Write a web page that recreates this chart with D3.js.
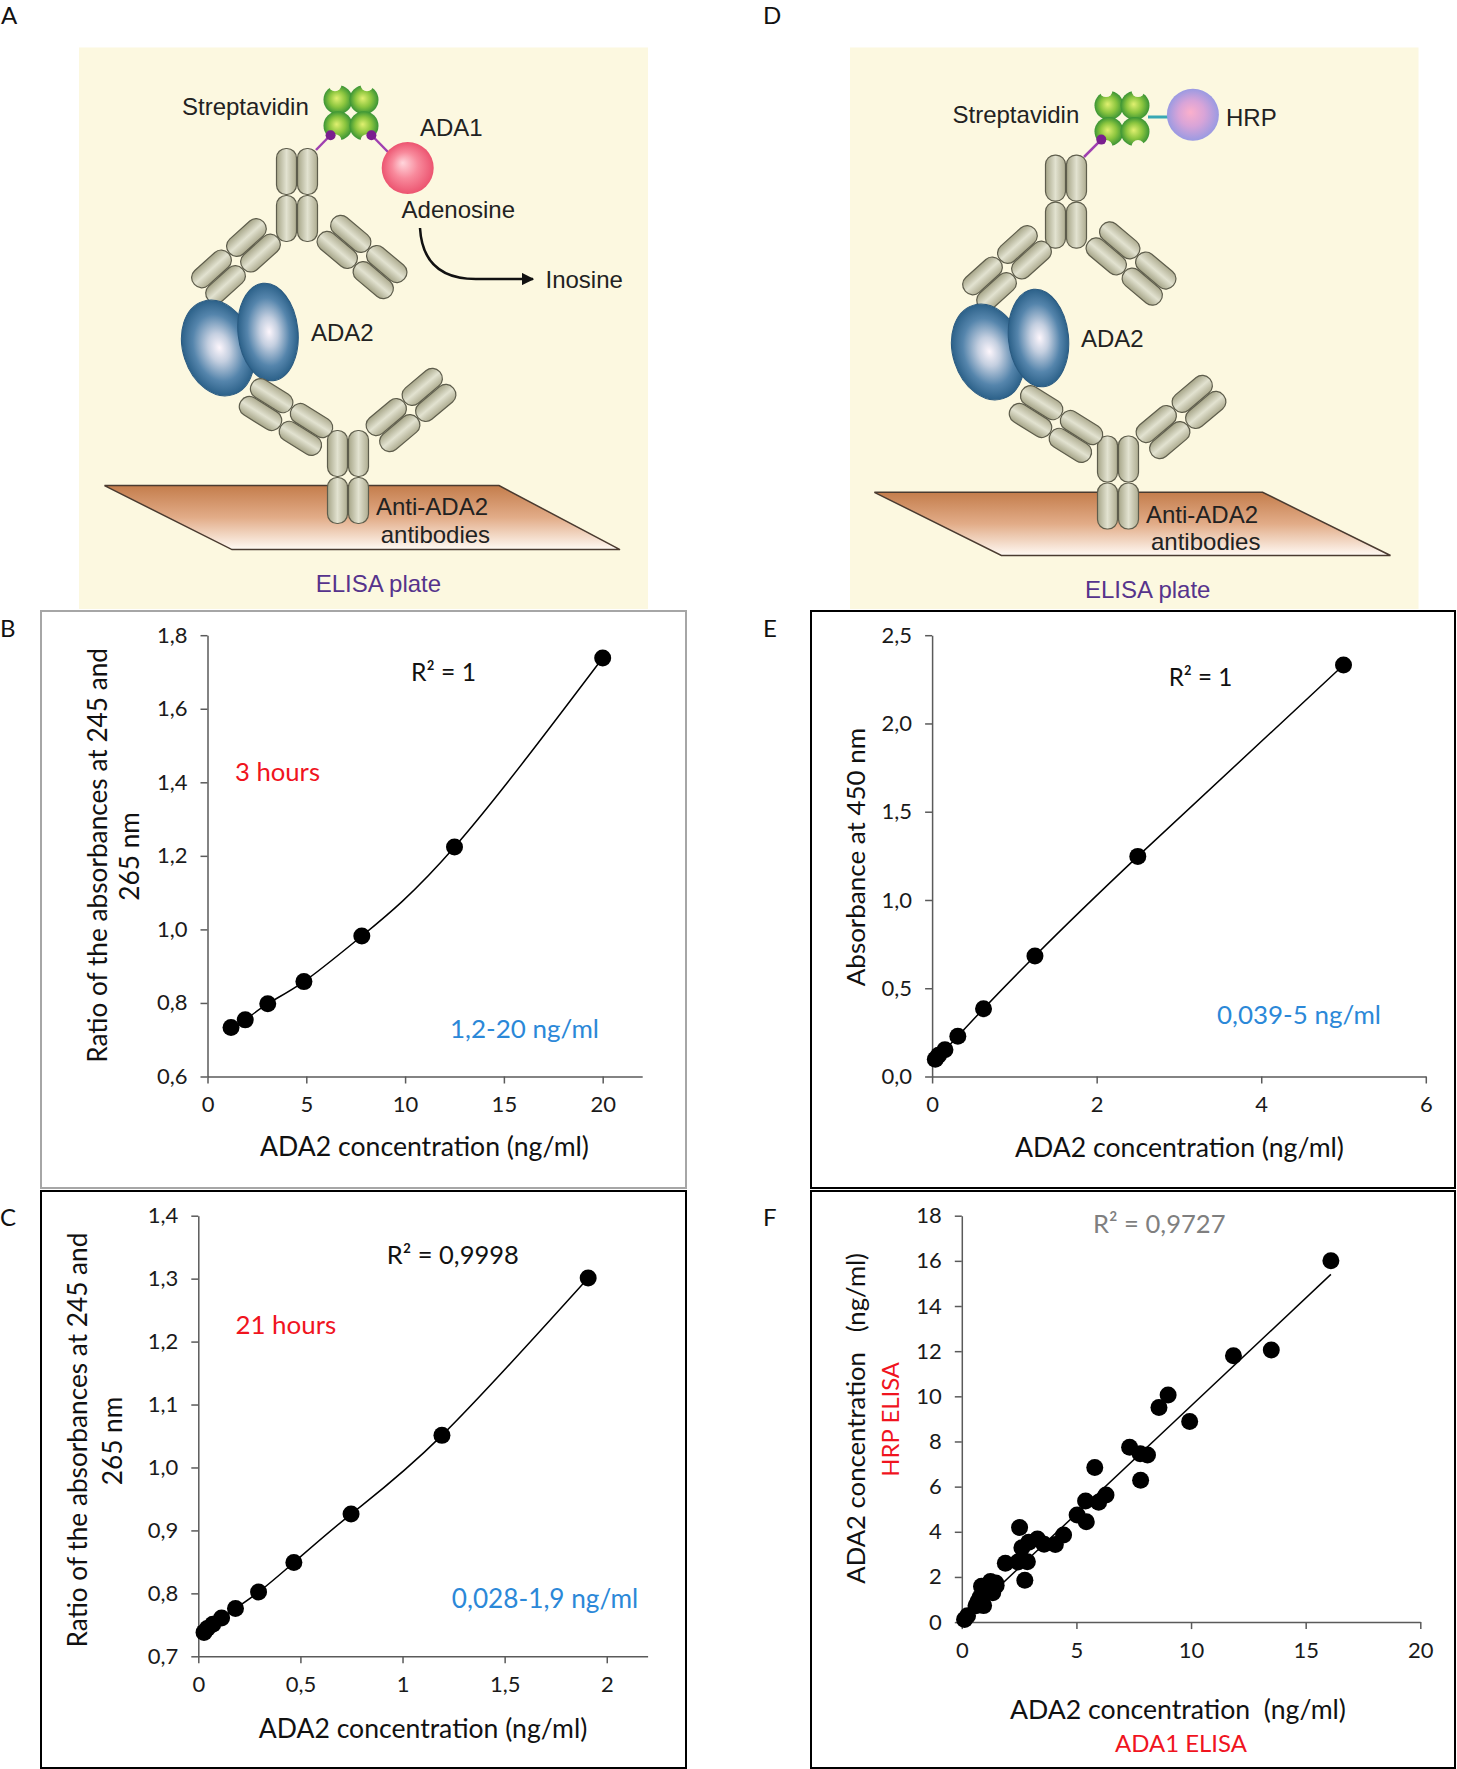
<!DOCTYPE html>
<html>
<head>
<meta charset="utf-8">
<script src="https://cdn.jsdelivr.net/npm/d3@7"></script>
<style>
  body { margin: 0; background: #fff; }
  svg { display: block; }
  text { font-family: Lato, "Open Sans", sans-serif; white-space: pre; }
  .ill text { font-family: "Liberation Sans", Arial, sans-serif; }
</style>
</head>
<body>
<script>
// ---- data ----
// B: ADA1 assay, 3 hours
var concB = [1.19, 1.91, 3.05, 4.88, 7.81, 12.5, 20]
var ratioB = [0.733, 0.754, 0.798, 0.858, 0.982, 1.224, 1.738]
// C: ADA1 assay, 21 hours
var concC = [0.028, 0.044, 0.071, 0.114, 0.182, 0.295, 0.468, 0.748, 1.193, 1.909]
var ratioC = [0.738, 0.744, 0.751, 0.761, 0.776, 0.802, 0.849, 0.926, 1.051, 1.301]
// E: HRP assay
var concE = [0.039, 0.078, 0.156, 0.3125, 0.625, 1.25, 2.5, 5]
var absE = [0.098, 0.12, 0.152, 0.228, 0.384, 0.683, 1.247, 2.331]
// F: samples, ADA1 ELISA vs HRP ELISA
var ada1F = [16.1, 13.5, 11.85, 9.0, 8.6, 9.94, 7.32, 7.78, 8.1, 7.8, 5.8, 5.4, 5.97, 6.29, 5.03, 5.43,
  2.52, 4.44, 4.08, 3.59, 3.3, 2.92, 2.62, 2.86, 2.45, 1.9, 2.75, 1.48, 1.25, 0.86, 1.05, 1.35,
  0.7, 0.95, 0.62, 0.25, 0.12, 1.15, 1.5, 0.8]
var hrpF = [16.0, 12.05, 11.8, 10.06, 9.5, 8.88, 7.74, 7.46, 7.4, 6.28, 6.85, 5.36, 5.31, 5.63, 4.74, 4.44,
  4.19, 3.86, 3.44, 3.45, 3.68, 3.54, 3.29, 2.67, 2.66, 2.61, 1.85, 1.73, 1.8, 1.59, 1.36, 1.3,
  0.9, 0.73, 0.72, 0.28, 0.12, 1.55, 1.62, 1.1]
// linear trend of F (end points of the drawn line)
var fitF = [[0.1, 0.12], [16.1, 15.4]]

// tick values
var ticksBx = [0, 5, 10, 15, 20]
var ticksBy = [0.6, 0.8, 1.0, 1.2, 1.4, 1.6, 1.8]
var ticksCx = [0, 0.5, 1, 1.5, 2]
var ticksCy = [0.7, 0.8, 0.9, 1.0, 1.1, 1.2, 1.3, 1.4]
var ticksEx = [0, 2, 4, 6]
var ticksEy = [0, 0.5, 1.0, 1.5, 2.0, 2.5]
var ticksFx = [0, 5, 10, 15, 20]
var ticksFy = [0, 2, 4, 6, 8, 10, 12, 14, 16, 18]

var width = 1457, height = 1769
var BG = '#fcf8e0'

var svg = d3.select("body")
  .append("svg")
  .attr("width", width)
  .attr("height", height)

var locale = d3.formatLocale({decimal: ",", thousands: ".", grouping: [3], currency: ["", ""]})
var fmt1 = locale.format(".1f")
var fmtTrim = locale.format(".1~f")
var fmtInt = locale.format("d")

// ---- gradients ----
var defs = svg.append("defs")

function radial(id, stops, fx, fy) {
  var gr = defs.append("radialGradient").attr("id", id)
    .attr("fx", fx || 0.5).attr("fy", fy || 0.5)
  stops.forEach(s => gr.append("stop").attr("offset", s[0]).attr("stop-color", s[1]))
}
radial("gGreen", [[0, "#e0f070"], [0.55, "#8cc63f"], [1, "#3a9435"]], 0.45, 0.45)
radial("gBlue", [[0, "#fdf6fc"], [0.3, "#c4cfe0"], [0.7, "#5585ac"], [1, "#2c6189"]], 0.52, 0.5)
radial("gPink", [[0, "#ffd6dc"], [0.5, "#f88a9c"], [1, "#ec5470"]], 0.4, 0.4)
radial("gHrp", [[0, "#fbb0cc"], [0.5, "#d8a4d8"], [1, "#9a9ae2"]], 0.45, 0.45)

var pillGrad = defs.append("linearGradient").attr("id", "gPill")
  .attr("x1", 0).attr("x2", 1).attr("y1", 0).attr("y2", 0)
pillGrad.append("stop").attr("offset", 0).attr("stop-color", "#a6a588")
pillGrad.append("stop").attr("offset", 0.5).attr("stop-color", "#e2e2d0")
pillGrad.append("stop").attr("offset", 1).attr("stop-color", "#aeac90")

var plateGrad = defs.append("linearGradient").attr("id", "gPlate")
  .attr("x1", 0).attr("x2", 0).attr("y1", 0).attr("y2", 1)
plateGrad.append("stop").attr("offset", 0).attr("stop-color", "#c47d4c")
plateGrad.append("stop").attr("offset", 0.5).attr("stop-color", "#e2ac88")
plateGrad.append("stop").attr("offset", 1).attr("stop-color", "#fffaf4")

defs.append("marker").attr("id", "arrow")
  .attr("viewBox", "0 0 10 10").attr("refX", 9).attr("refY", 5)
  .attr("markerWidth", 5).attr("markerHeight", 5).attr("orient", "auto")
  .append("path").attr("d", "M0,0 L10,5 L0,10 z").attr("fill", "#111")

// ---- illustration helpers ----
// 2x2 block of rounded pills (one antibody domain pair)
function block(g, cx, cy, angle) {
  var b = g.append("g").attr("transform", `translate(${cx},${cy}) rotate(${angle})`)
  ;[[-1, -1], [1, -1], [-1, 1], [1, 1]].forEach(function(p) {
    b.append("rect")
      .attr("x", p[0] < 0 ? -20.5 : 0.5)
      .attr("y", p[1] < 0 ? -46.5 : 0.5)
      .attr("width", 20).attr("height", 46)
      .attr("rx", 9.5)
      .attr("fill", "url(#gPill)")
      .attr("stroke", "#5e5d4c")
      .attr("stroke-width", 1.2)
  })
}

function strep(g, cx, cy) {
  var s = g.append("g").attr("transform", `translate(${cx},${cy})`)
  ;[[-1, -1], [1, -1], [-1, 1], [1, 1]].forEach(function(p) {
    s.append("circle").attr("cx", p[0] * 13).attr("cy", p[1] * 13).attr("r", 14.5)
      .attr("fill", "url(#gGreen)")
  })
  ;[[-1, -1], [1, -1], [-1, 1], [1, 1]].forEach(function(p) {
    s.append("circle").attr("cx", p[0] * 16).attr("cy", p[1] * 28).attr("r", 6.5)
      .attr("fill", BG)
  })
}

function ada2(g, l, r) {
  g.append("ellipse").attr("rx", 35).attr("ry", 49)
    .attr("transform", `translate(${l[0]},${l[1]}) rotate(-18)`)
    .attr("fill", "url(#gBlue)").attr("stroke", "#2a5a80").attr("stroke-width", 1)
  g.append("ellipse").attr("rx", 30).attr("ry", 49)
    .attr("transform", `translate(${r[0]},${r[1]}) rotate(-6)`)
    .attr("fill", "url(#gBlue)").attr("stroke", "#2a5a80").attr("stroke-width", 1)
}

function plate(g, pts) {
  g.append("path")
    .attr("d", "M" + pts.map(p => p.join(",")).join("L") + "Z")
    .attr("fill", "url(#gPlate)")
    .attr("stroke", "#4a3b30")
    .attr("stroke-width", 1.5)
}

function itext(g, str, x, y, color) {
  return g.append("text").attr("x", x).attr("y", y)
    .attr("font-size", 24).attr("fill", color || "#222").text(str)
}

// ---- panel A ----
var ill = svg.append("g").attr("class", "ill")
ill.append("rect").attr("x", 79).attr("y", 47.5).attr("width", 569).attr("height", 561.5).attr("fill", BG)
plate(ill, [[104.5, 485.6], [499, 485.6], [620, 549.6], [232, 549.6]])
block(ill, 297, 195, 0)
block(ill, 236, 261, 48)
block(ill, 362, 257, -50)
ada2(ill, [218, 348], [268, 332])
block(ill, 348, 477, 0)
block(ill, 286, 417, -58)
block(ill, 411, 410, 50)
strep(ill, 351, 112.7)
ill.append("line").attr("x1", 330.6).attr("y1", 135).attr("x2", 316).attr("y2", 150)
  .attr("stroke", "#a040b0").attr("stroke-width", 2.5)
ill.append("line").attr("x1", 371.4).attr("y1", 135).attr("x2", 388).attr("y2", 152)
  .attr("stroke", "#a040b0").attr("stroke-width", 2.5)
ill.append("circle").attr("cx", 330.6).attr("cy", 135.2).attr("r", 5).attr("fill", "#7a1f8f")
ill.append("circle").attr("cx", 371.4).attr("cy", 135.2).attr("r", 5).attr("fill", "#7a1f8f")
ill.append("circle").attr("cx", 407.7).attr("cy", 168).attr("r", 26).attr("fill", "url(#gPink)")
ill.append("path").attr("d", "M420,228 Q423,280 478,279 L533,279")
  .attr("fill", "none").attr("stroke", "#111").attr("stroke-width", 2.5)
  .attr("marker-end", "url(#arrow)")
itext(ill, "Streptavidin", 182, 115.4)
itext(ill, "ADA1", 420, 136)
itext(ill, "Adenosine", 401.6, 218)
itext(ill, "Inosine", 545.5, 287.5)
itext(ill, "ADA2", 311, 340.6)
itext(ill, "Anti-ADA2", 376, 514.6)
itext(ill, "antibodies", 380.7, 543)
itext(ill, "ELISA plate", 315.7, 591.8, "#56338c")

// ---- panel D ----
ill.append("rect").attr("x", 850).attr("y", 47.5).attr("width", 568.5).attr("height", 561.5).attr("fill", BG)
plate(ill, [[874.4, 492.3], [1262.6, 492.3], [1390.5, 555.5], [1001.4, 555.5]])
block(ill, 1066, 201.6, 0)
block(ill, 1007, 268, 48)
block(ill, 1131, 263.5, -50)
ada2(ill, [988, 352], [1038.5, 338])
block(ill, 1118, 482.5, 0)
block(ill, 1056, 424, -58)
block(ill, 1181, 417, 50)
strep(ill, 1122, 118.6)
ill.append("line").attr("x1", 1148).attr("y1", 117).attr("x2", 1170).attr("y2", 117)
  .attr("stroke", "#38a8b4").attr("stroke-width", 3)
ill.append("circle").attr("cx", 1192.9).attr("cy", 114.7).attr("r", 26).attr("fill", "url(#gHrp)")
ill.append("line").attr("x1", 1101.3).attr("y1", 139.6).attr("x2", 1084).attr("y2", 157)
  .attr("stroke", "#a040b0").attr("stroke-width", 2.5)
ill.append("circle").attr("cx", 1101.3).attr("cy", 139.6).attr("r", 5).attr("fill", "#7a1f8f")
itext(ill, "Streptavidin", 952.5, 123.3)
itext(ill, "HRP", 1226, 126.4)
itext(ill, "ADA2", 1081, 346.6)
itext(ill, "Anti-ADA2", 1146, 522.6)
itext(ill, "antibodies", 1151, 549.6)
itext(ill, "ELISA plate", 1085, 597.6, "#56338c")

// ---- chart helpers ----
// set font size so the text spans w pixels
function fit(t, w) {
  t.attr("font-size", 20)
  var len = t.node().getComputedTextLength()
  t.attr("font-size", 20 * w / len)
  return 20 * w / len
}

function note(g, str, x, y, w, color) {
  var t = g.append("text").attr("x", x).attr("y", y).attr("dy", "0.35em")
    .attr("fill", color || "#111").text(str)
  fit(t, w)
  return t
}

function ctext(g, str, x, y, w, color, rot) {
  var t = g.append("text")
    .attr("transform", `translate(${x},${y})` + (rot ? " rotate(-90)" : ""))
    .attr("text-anchor", "middle").attr("dy", "0.35em")
    .attr("fill", color || "#111").text(str)
  if (w) fit(t, w)
  return t
}

function frame(x0, y0, x1, y1, color) {
  svg.append("rect").attr("x", x0).attr("y", y0)
    .attr("width", x1 - x0).attr("height", y1 - y0)
    .attr("fill", "none").attr("stroke", color).attr("stroke-width", 2)
}

function chart(o) {
  var g = svg.append("g")
  var x = d3.scaleLinear().domain(o.xDomain).range(o.xRange)
  var y = d3.scaleLinear().domain(o.yDomain).range(o.yRange)

  g.append("g")
    .attr("transform", `translate(0,${o.yRange[0]})`)
    .call(d3.axisBottom(x).tickValues(o.xTicks).tickFormat(o.xFmt)
      .tickSize(7).tickSizeOuter(0).tickPadding(13))

  g.append("g")
    .attr("transform", `translate(${o.xRange[0]},0)`)
    .call(d3.axisLeft(y).tickValues(o.yTicks).tickFormat(o.yFmt)
      .tickSize(7).tickSizeOuter(0).tickPadding(13))

  g.selectAll(".domain, .tick line").attr("stroke", "#5a5a5a").attr("stroke-width", 1.5)
  g.selectAll(".tick text")
    .attr("font-family", "Lato, 'Open Sans', sans-serif")
    .attr("font-size", 22)
    .attr("fill", "#1a1a1a")
  return {g: g, x: x, y: y}
}

function dots(c, xs, ys) {
  c.g.append("g").selectAll("circle")
    .data(xs)
    .enter()
    .append("circle")
    .attr("cx", d => c.x(d))
    .attr("cy", (d, i) => c.y(ys[i]))
    .attr("r", 8.5)
    .attr("fill", "#000")
}

function curve(c, xs, ys) {
  var line = d3.line()
    .x(d => c.x(d[0]))
    .y(d => c.y(d[1]))
    .curve(d3.curveNatural)
  c.g.append("path")
    .attr("d", line(xs.map((d, i) => [d, ys[i]])))
    .attr("fill", "none")
    .attr("stroke", "#000")
    .attr("stroke-width", 1.5)
}

// ---- frames ----
frame(41, 611, 686, 1188, "#a6a6a6")
frame(41, 1191, 686, 1768, "#000")
frame(811, 611, 1455, 1188, "#000")
frame(811, 1191, 1455, 1768, "#000")

// panel letters
;[["A", 1, 15.8], ["B", 0, 628.7], ["C", 0, 1217.6], ["D", 763, 15.8], ["E", 763, 628.7], ["F", 763, 1217.6]]
  .forEach(function(l) {
    svg.append("text").attr("x", l[1]).attr("y", l[2]).attr("dy", "0.35em")
      .attr("font-size", 24).attr("fill", "#111").text(l[0])
  })

// ---- B ----
var cB = chart({
  xDomain: [0, 22], xRange: [207.5, 642.2],
  yDomain: [0.6, 1.8], yRange: [1076.5, 635.2],
  xTicks: ticksBx, yTicks: ticksBy, xFmt: fmtInt, yFmt: fmt1
})
curve(cB, concB, ratioB)
dots(cB, concB, ratioB)
note(cB.g, "R² = 1", 411, 672.7, 65)
note(cB.g, "3 hours", 235, 772, 85, "#f0141e")
note(cB.g, "1,2-20 ng/ml", 450, 1028.6, 149, "#2b88d8")
ctext(cB.g, "ADA2 concentration (ng/ml)", 424.5, 1147, 329)
var fsB = fit(ctext(cB.g, "Ratio of the absorbances at 245 and", 97.5, 855.4, 0, null, true), 415)
ctext(cB.g, "265 nm", 130, 856.4, 0, null, true).attr("font-size", fsB)

// ---- C ----
var cC = chart({
  xDomain: [0, 2.2], xRange: [198.3, 647.6],
  yDomain: [0.7, 1.4], yRange: [1656.3, 1215.7],
  xTicks: ticksCx, yTicks: ticksCy, xFmt: fmtTrim, yFmt: fmt1
})
curve(cC, concC, ratioC)
dots(cC, concC, ratioC)
note(cC.g, "R² = 0,9998", 386.8, 1255, 132)
note(cC.g, "21 hours", 235.4, 1324.6, 101, "#f0141e")
note(cC.g, "0,028-1,9 ng/ml", 451.8, 1598.8, 186.6, "#2b88d8")
ctext(cC.g, "ADA2 concentration (ng/ml)", 423, 1728.4, 328.7)
var fsC = fit(ctext(cC.g, "Ratio of the absorbances at 245 and", 78, 1440, 0, null, true), 415)
ctext(cC.g, "265 nm", 112.8, 1441, 0, null, true).attr("font-size", fsC)

// ---- E ----
var cE = chart({
  xDomain: [0, 6], xRange: [932.1, 1425.8],
  yDomain: [0, 2.5], yRange: [1076.5, 635.2],
  xTicks: ticksEx, yTicks: ticksEy, xFmt: fmtInt, yFmt: fmt1
})
curve(cE, concE, absE)
dots(cE, concE, absE)
note(cE.g, "R² = 1", 1168.7, 678, 63.7)
note(cE.g, "0,039-5 ng/ml", 1217, 1015, 164, "#2b88d8")
ctext(cE.g, "ADA2 concentration (ng/ml)", 1179.5, 1148, 329)
ctext(cE.g, "Absorbance at 450 nm", 855.8, 857, 258.5, null, true)

// ---- F ----
var cF = chart({
  xDomain: [0, 20], xRange: [961.8, 1420.3],
  yDomain: [0, 18], yRange: [1622.1, 1215.7],
  xTicks: ticksFx, yTicks: ticksFy, xFmt: fmtInt, yFmt: fmtInt
})
cF.g.append("path")
  .attr("d", d3.line().x(d => cF.x(d[0])).y(d => cF.y(d[1]))(fitF))
  .attr("stroke", "#000").attr("stroke-width", 1.5).attr("fill", "none")
dots(cF, ada1F, hrpF)
note(cF.g, "R² = 0,9727", 1093, 1224.3, 132.5, "#7f7f7f")
ctext(cF.g, "ADA2 concentration  (ng/ml)", 1178, 1710, 336)
ctext(cF.g, "ADA1 ELISA", 1181, 1743.4, 132, "#f0141e")
ctext(cF.g, "ADA2 concentration   (ng/ml)", 855.8, 1418.4, 330.8, null, true)
ctext(cF.g, "HRP ELISA", 890.7, 1419.3, 114.7, "#f0141e", true)
</script>
</body>
</html>
